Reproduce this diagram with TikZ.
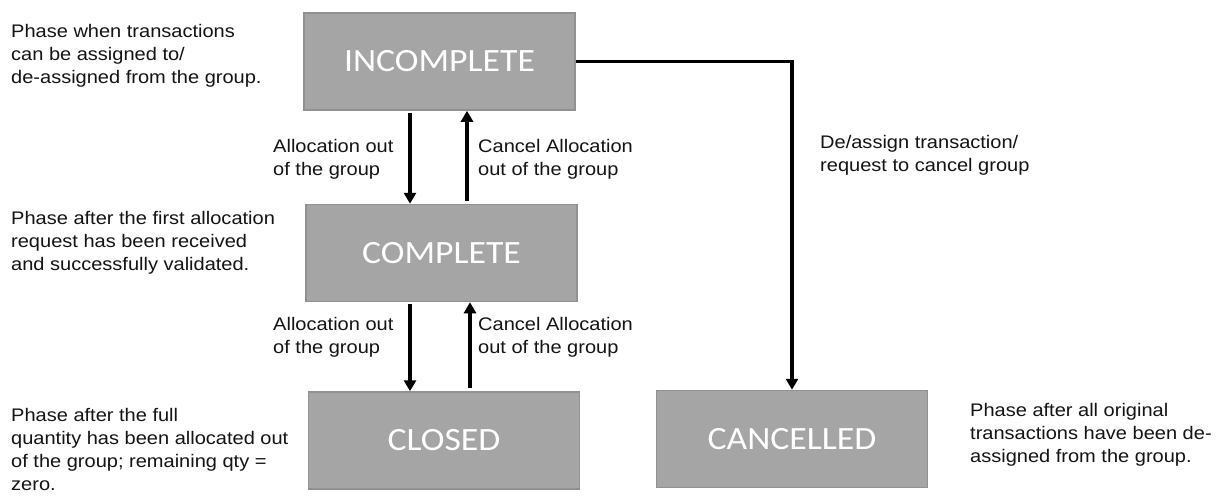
\documentclass[tikz,border=0pt]{standalone}
\usepackage{fontspec}
\setmainfont{Liberation Sans}[FakeStretch=1.1]
\newfontfamily\boxfont{Carlito}[FakeStretch=1.1]
\usetikzlibrary{arrows.meta}
\definecolor{boxfill}{RGB}{165,165,165}
\definecolor{boxline}{RGB}{145,145,145}
\definecolor{txt}{RGB}{20,20,20}
\begin{document}
\begin{tikzpicture}[x=1pt,y=-1pt,
  state/.style={draw=boxline, line width=1.5pt, fill=boxfill, minimum width=271pt, minimum height=97pt, inner sep=0pt, text=white, font=\boxfont\fontsize{32.5}{36}\selectfont},
  note/.style={align=left, anchor=west, inner sep=0pt, text=txt, font=\fontsize{18.2}{23}\selectfont},
  arr/.style={line width=3.4pt, draw=black, -{Triangle[length=11pt,width=12pt]}}]
\useasboundingbox[fill=white] (0,0) rectangle (1224,498);

% states
\node[state] (inc)  at (439.5,61.5) {INCOMPLETE};
\node[state] (comp) at (441.5,253)  {COMPLETE};
\node[state] (clo)  at (444,440.5)  {CLOSED};
\node[state] (canc) at (792,439)    {CANCELLED};

% arrow x positions
\coordinate (da) at (410,0);
\coordinate (ua) at (467,0);
\coordinate (db) at (410,0);
\coordinate (ub) at (470,0);

\draw[arr, shorten <=2pt] (inc.south -| da) -- (comp.north -| da);
\draw[arr, shorten <=3pt] (comp.north -| ua) -- (inc.south -| ua);
\draw[arr, shorten <=2pt] (comp.south -| db) -- (clo.north -| db);
\draw[arr, shorten <=3pt] (clo.north -| ub) -- (comp.south -| ub);
\draw[arr] (inc.east) -| (canc.north);

% transition labels
\node[note] (la1) at (273,159) {Allocation out\\of the group};
\node[note] (lc1) at (478,159) {Cancel Allocation\\out of the group};
\node[note] (la2) at (273,337) {Allocation out\\of the group};
\node[note] (lc2) at (478,337) {Cancel Allocation\\out of the group};
\node[note] (lx)  at (820,155) {De/assign transaction/\\request to cancel group};

% phase descriptions
\node[note] (n1) at (11,56)    {Phase when transactions\\can be assigned to/\\de-assigned from the group.};
\node[note] (n2) at (11,243)   {Phase after the first allocation\\request has been received\\and successfully validated.};
\node[note] (n3) at (11,449.5) {Phase after the full\\quantity has been allocated out\\of the group; remaining qty =\\zero.};
\node[note] (n4) at (970,435)  {Phase after all original\\transactions have been de-\\assigned from the group.};
\end{tikzpicture}
\end{document}
